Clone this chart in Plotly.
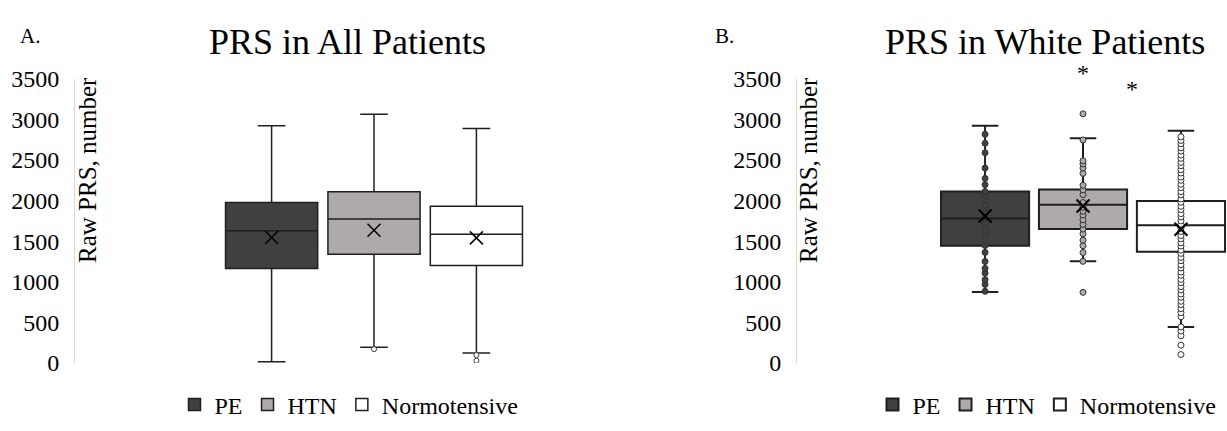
import plotly.graph_objects as go

# ---------------- data ----------------
categories = ["PE", "HTN", "Normotensive"]
colors = ["#404040", "#AEAAAA", "#FFFFFF"]

# Panel A: PRS in All Patients
a_q1 = [1163, 1340, 1201]
a_median = [1629, 1772, 1587]
a_q3 = [1976, 2108, 1930]
a_lower = [17, 194, 125]
a_upper = [2921, 3064, 2887]
a_mean = [1545, 1635, 1541]
a_outliers = [None, [171], [98, 29]]

# Panel B: PRS in White Patients
b_q1 = [1444, 1650, 1371]
b_median = [1780, 1950, 1698]
b_q3 = [2112, 2136, 1995]
b_lower = [874, 1252, 445]
b_upper = [2921, 2767, 2860]
b_mean = [1811, 1933, 1648]
b_pe_points = [2817, 2705, 2589, 2400, 2273, 2196, 2111, 2061, 1941, 1841,
               1725, 1632, 1578, 1447, 1362, 1250, 1165, 1107, 1026, 968, 883]
b_htn_points = [3068, 2747, 2490, 2451, 2401, 2335, 2189, 2131, 2073, 1976,
                1918, 1869, 1822, 1764, 1707, 1649, 1591, 1513, 1444, 1360,
                1252, 870]
b_norm_points = [2785, 2740, 2700, 2650, 2610, 2560, 2520, 2470, 2430, 2380,
                 2340, 2290, 2250, 2200, 2160, 2110, 2070, 2020, 1980, 1930,
                 1890, 1840, 1800, 1750, 1710, 1660, 1620, 1570, 1530, 1480,
                 1440, 1390, 1350, 1300, 1260, 1210, 1170, 1120, 1080, 1030,
                 990, 940, 900, 850, 810, 760, 720, 670, 620, 570, 445,
                 394, 336, 220, 104]
b_points = [b_pe_points, b_htn_points, b_norm_points]

y_ticks = [0, 500, 1000, 1500, 2000, 2500, 3000, 3500]

FONT = "Liberation Serif, Times New Roman, serif"
W, H = 1227, 431

fig = go.Figure()

# ---------------- panel A ----------------
for i, cat in enumerate(categories):
    kw = {}
    if a_outliers[i]:
        kw["y"] = [a_outliers[i]]
    fig.add_trace(go.Box(
        x=[cat], q1=[a_q1[i]], median=[a_median[i]], q3=[a_q3[i]],
        lowerfence=[a_lower[i]], upperfence=[a_upper[i]],
        name=cat, fillcolor=colors[i],
        line=dict(color="#1f1f1f", width=1.5),
        whiskerwidth=0.3, boxpoints="outliers",
        marker=dict(color="#FFFFFF", size=5, line=dict(color="#404040", width=1)),
        xaxis="x", yaxis="y", legend="legend", hoverinfo="skip", **kw,
    ))
fig.add_trace(go.Scatter(
    x=categories, y=a_mean, mode="markers",
    marker=dict(symbol="x-thin-open", size=13, color="#000000",
                line=dict(color="#000000", width=1.5)),
    xaxis="x", yaxis="y", showlegend=False, hoverinfo="skip",
))

# ---------------- panel B ----------------
for i, cat in enumerate(categories):
    fig.add_trace(go.Box(
        x=[cat], q1=[b_q1[i]], median=[b_median[i]], q3=[b_q3[i]],
        lowerfence=[b_lower[i]], upperfence=[b_upper[i]],
        y=[b_points[i]],
        name=cat, fillcolor=colors[i],
        line=dict(color="#1f1f1f", width=2),
        whiskerwidth=0.3, boxpoints="all", jitter=0, pointpos=0,
        marker=dict(color=colors[i], size=6, line=dict(color="#333333", width=1)),
        xaxis="x2", yaxis="y2", legend="legend2", hoverinfo="skip",
    ))
fig.add_trace(go.Scatter(
    x=categories, y=b_mean, mode="markers",
    marker=dict(symbol="x-thin-open", size=13, color="#000000",
                line=dict(color="#000000", width=2.2)),
    xaxis="x2", yaxis="y2", showlegend=False, hoverinfo="skip",
))

ydom = [(H - 372.5) / H, (H - 70) / H]
yax = dict(range=[0, 3500], tickvals=y_ticks, showgrid=False, zeroline=False,
           showline=True, linecolor="#d9d9d9", linewidth=1, ticks="",
           ticklabelstandoff=10, tickfont=dict(size=24, color="#000000", family=FONT),
           domain=ydom, fixedrange=True)
xax = dict(type="category", categoryorder="array", categoryarray=categories,
           showticklabels=False, showgrid=False, zeroline=False, showline=False,
           ticks="", fixedrange=True)

legend_common = dict(orientation="h", xanchor="center", y=1 - 417 / H,
                     yanchor="middle", font=dict(size=24, family=FONT),
                     bgcolor="rgba(0,0,0,0)", itemclick=False,
                     itemdoubleclick=False, itemwidth=30)

fig.update_layout(
    width=W, height=H, autosize=False,
    margin=dict(l=0, r=0, t=0, b=0),
    paper_bgcolor="white", plot_bgcolor="white",
    font=dict(family=FONT, color="#000000"),
    boxmode="overlay", boxgap=0.1, boxgroupgap=0,
    xaxis=dict(xax, domain=[75 / W, 673 / W], range=[-1.92, 3.92], anchor="y"),
    yaxis=dict(yax, anchor="x"),
    xaxis2=dict(xax, domain=[797 / W, 1.0], range=[-1.92, 2.47], anchor="y2"),
    yaxis2=dict(yax, anchor="x2"),
    legend=dict(legend_common, x=349 / W),
    legend2=dict(legend_common, x=1047 / W),
    showlegend=True,
)

annotations = [
    dict(text="A.", x=18 / W, y=1 - 25 / H, xanchor="left", yanchor="middle",
         font=dict(size=21)),
    dict(text="PRS in All Patients", x=347 / W, y=1 - 31 / H, xanchor="center",
         yanchor="middle", font=dict(size=36)),
    dict(text="Raw PRS, number", x=87 / W, y=1 - 66 / H, xanchor="center",
         yanchor="top", textangle=-90, font=dict(size=25)),
    dict(text="B.", x=713 / W, y=1 - 25 / H, xanchor="left", yanchor="middle",
         font=dict(size=21)),
    dict(text="PRS in White Patients", x=1045 / W, y=1 - 31 / H, xanchor="center",
         yanchor="middle", font=dict(size=36)),
    dict(text="Raw PRS, number", x=808 / W, y=1 - 66 / H, xanchor="center",
         yanchor="top", textangle=-90, font=dict(size=25)),
]
for a in annotations:
    a.update(xref="paper", yref="paper", showarrow=False)
    a["font"] = dict(a["font"], family=FONT, color="#000000")
fig.update_layout(annotations=annotations)

# significance asterisks
fig.add_annotation(text="*", xref="x2", yref="paper", x=1, y=1 - 64 / H,
                   yanchor="middle", showarrow=False,
                   font=dict(size=24, family=FONT, color="#000000"))
fig.add_annotation(text="*", xref="x2", yref="paper", x=1.5, y=1 - 81 / H,
                   yanchor="middle", showarrow=False,
                   font=dict(size=24, family=FONT, color="#000000"))

fig.write_html("out.html")
